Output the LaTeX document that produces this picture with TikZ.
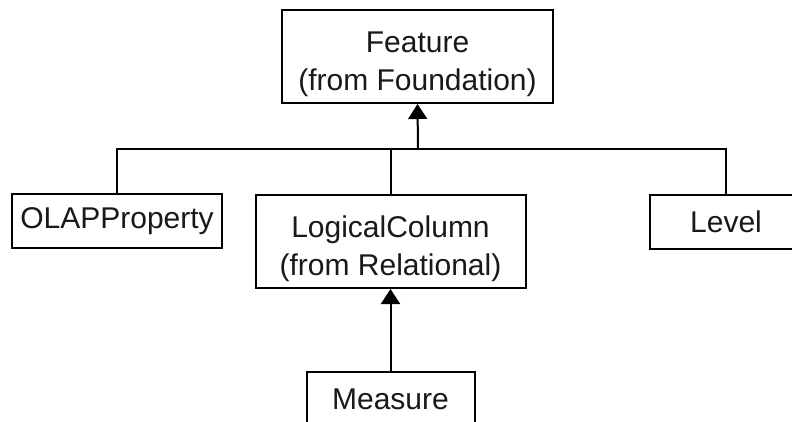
\documentclass[tikz,border=0pt]{standalone}
\usepackage{fontspec}
\setmainfont{Liberation Sans}
\usetikzlibrary{arrows.meta}
\begin{document}
\begin{tikzpicture}[x=1pt,y=-1pt,
  cls/.style={draw=black, line width=2pt, fill=white, inner sep=0pt, align=center,
    font=\fontsize{30pt}{38pt}\selectfont, text=black!90},
  link/.style={draw=black, line width=2pt},
  arr/.style={link, -{Triangle[width=19pt,length=15pt]}}]
\clip (0,0) rectangle (792,421);
\useasboundingbox (0,0) rectangle (792,421);
\node[cls, minimum width=271pt, minimum height=93pt] (feature) at (417.5,56.5) {\rule{0pt}{36pt}Feature\\(from Foundation)};
\node[cls, minimum width=210pt, minimum height=54pt] (olap) at (117,221) {OLAPProperty};
\node[cls, minimum width=270pt, minimum height=93pt] (lc) at (390.5,241.5) {\rule{0pt}{36pt}LogicalColumn\\(from Relational)};
\node[cls, minimum width=152pt, minimum height=54pt] (level) at (726,222) {Level};
\node[cls, minimum width=168pt, minimum height=54pt] (measure) at (390.5,399) {Measure};
\coordinate (bus) at (418,149);
\draw[arr] (bus) -- (feature.south);
\draw[link] (olap.north) -- (olap.north |- bus) -- (level.north |- bus) -- (level.north);
\draw[link] (lc.north) -- (lc.north |- bus);
\draw[arr] (measure.north) -- (lc.south);
\end{tikzpicture}
\end{document}
